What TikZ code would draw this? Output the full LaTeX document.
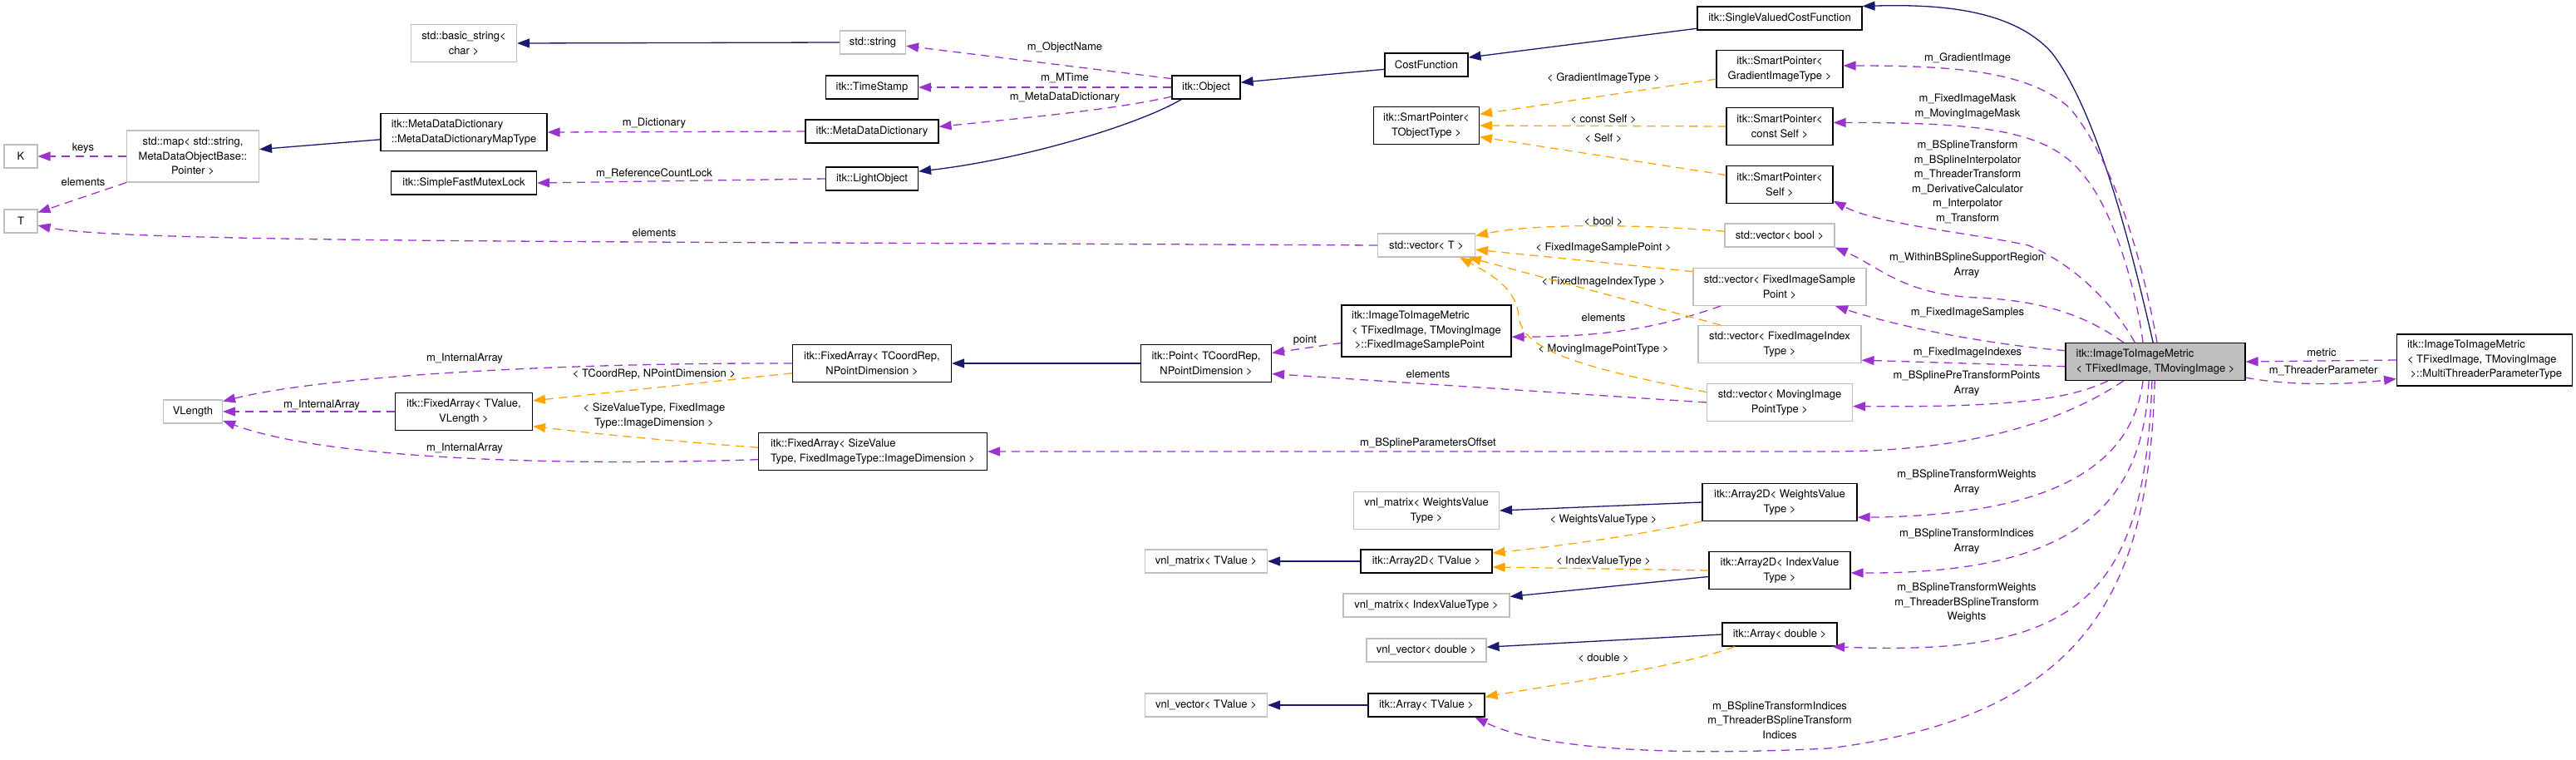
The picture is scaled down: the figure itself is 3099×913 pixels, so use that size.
\documentclass[tikz,border=0pt]{standalone}
\usepackage{fontspec}
\setmainfont{TeX Gyre Heros}
\usetikzlibrary{arrows.meta,positioning}
\definecolor{navy}{HTML}{191970}
\definecolor{orchid}{HTML}{9A32CD}
\definecolor{orng}{HTML}{FFA500}
\definecolor{undoc}{HTML}{BFBFBF}
\newcommand\dgfont{\fontsize{13}{17.5}\selectfont}
\tikzset{
  cls/.style={draw=black,line width=1.1pt,fill=white,font=\dgfont,align=center,inner sep=0pt},
  ext/.style={cls,draw=undoc},
  lft/.style={align=left},
  sz/.style args={#1x#2}{minimum width=#1pt,minimum height=#2pt},
  lbl/.style={font=\dgfont,align=center,inner sep=0pt},
  inh/.style={navy,line width=1.3pt,-{Triangle[length=15pt,width=11pt]}},
  mem/.style={orchid,line width=1.3pt,dash pattern=on 10pt off 7pt,-{Triangle[length=15pt,width=11pt]}},
  tpl/.style={mem,orng}
}

\begin{document}
\begin{tikzpicture}[x=1pt,y=-1pt]
\fill[white,use as bounding box] (0,0) rectangle (3099,913);
% classes
\node[ext,sz=40x28] (K) at (25,188) {K};
\node[ext,sz=40x28] (T) at (25,266) {T};
\node[ext,sz=159x62] (stdmap) at (232,188) {std::map< std::string,\\ MetaDataObjectBase::\\ Pointer >};
\node[ext,sz=71x28] (vlen) at (232,495) {VLength};
\node[ext,sz=127x45] (bstr) at (558,52) {std::basic\_string<\\ char >};
\node[cls,lft,sz=200x45] (maptype) at (558,159) {itk::MetaDataDictionary\\ ::MetaDataDictionaryMapType};
\node[cls,sz=175x28] (mutex) at (558,220) {itk::SimpleFastMutexLock};
\node[cls,sz=165x45] (favlen) at (558,495) {itk::FixedArray< TValue,\\ VLength >};
\node[ext,sz=79x28] (stdstr) at (1050,51) {std::string};
\node[cls,sz=111x28] (tstamp) at (1049,105) {itk::TimeStamp};
\node[cls,sz=160x28] (mdd) at (1049,158) {itk::MetaDataDictionary};
\node[cls,sz=111x28] (lightobj) at (1049,215) {itk::LightObject};
\node[cls,sz=191x45] (facoord) at (1049,437) {itk::FixedArray< TCoordRep,\\ NPointDimension >};
\node[cls,lft,sz=275x45] (fasize) at (1050,543) {itk::FixedArray< SizeValue\\ Type, FixedImageType::ImageDimension >};
\node[cls,sz=82x28] (object) at (1451,105) {itk::Object};
\node[cls,sz=157x45] (point) at (1451,437) {itk::Point< TCoordRep,\\ NPointDimension >};
\node[ext,sz=147x28] (vnlmatT) at (1451,675) {vnl\_matrix< TValue >};
\node[ext,sz=147x28] (vnlvecT) at (1451,848) {vnl\_vector< TValue >};
\node[cls,sz=100x28] (costfn) at (1716,78) {CostFunction};
\node[cls,sz=127x45] (spobj) at (1716,151) {itk::SmartPointer<\\ TObjectType >};
\node[ext,sz=117x28] (vecT) at (1716,295) {std::vector< T >};
\node[cls,lft,sz=204x62] (fisp) at (1716,398) {itk::ImageToImageMetric\\ < TFixedImage, TMovingImage\\ \ >::FixedImageSamplePoint};
\node[ext,sz=175x45] (vnlmatW) at (1716,614) {vnl\_matrix< WeightsValue\\ Type >};
\node[cls,sz=158x28] (arr2dT) at (1716,675) {itk::Array2D< TValue >};
\node[ext,sz=200x28] (vnlmatI) at (1716,728) {vnl\_matrix< IndexValueType >};
\node[ext,sz=144x28] (vnlvecD) at (1716,782) {vnl\_vector< double >};
\node[cls,sz=140x28] (arrT) at (1716,848) {itk::Array< TValue >};
\node[cls,sz=198x28] (svcf) at (2141,22) {itk::SingleValuedCostFunction};
\node[cls,sz=152x45] (spgrad) at (2141,83) {itk::SmartPointer<\\ GradientImageType >};
\node[cls,sz=128x45] (spconst) at (2141,152) {itk::SmartPointer<\\ const Self >};
\node[cls,sz=128x45] (spself) at (2141,222) {itk::SmartPointer<\\ Self >};
\node[ext,sz=132x28] (vecbool) at (2141,283) {std::vector< bool >};
\node[ext,sz=208x45] (vecfisp) at (2141,345) {std::vector< FixedImageSample\\ Point >};
\node[ext,sz=196x45] (vecfiit) at (2141,414) {std::vector< FixedImageIndex\\ Type >};
\node[ext,sz=175x45] (vecmipt) at (2141,484) {std::vector< MovingImage\\ PointType >};
\node[cls,sz=186x45] (arr2dW) at (2141,604) {itk::Array2D< WeightsValue\\ Type >};
\node[cls,sz=170x45] (arr2dI) at (2141,686) {itk::Array2D< IndexValue\\ Type >};
\node[cls,sz=138x28] (arrD) at (2141,763) {itk::Array< double >};
\node[cls,lft,sz=216x45,fill=undoc] (metric) at (2593,435) {itk::ImageToImageMetric\\ < TFixedImage, TMovingImage >};
\node[cls,lft,sz=211x62] (mtparam) at (2989,433) {itk::ImageToImageMetric\\ < TFixedImage, TMovingImage\\ \ >::MultiThreaderParameterType};
% edge labels
\foreach \nm/\x/\y/\txt in {
  lkeys/100/178/keys, lelmK/100/219/elements,
  ldict/787/148/m\_Dictionary, lrefc/787/209/m\_ReferenceCountLock, lelmT/787/280/elements,
  lname/1281/57/m\_ObjectName, lmtime/1281/94/m\_MTime, lmdd/1281/117/m\_MetaDataDictionary,
  liaA/559/431/m\_InternalArray, liaB/387/487/m\_InternalArray, liaC/559/539/m\_InternalArray,
  ltcoord/787/450/{< TCoordRep, NPointDimension >},
  lsize/787/500/{< SizeValueType, FixedImage\\ Type::ImageDimension >},
  lpoint/1570/409/point, lelmP/1718/450/elements, loffs/1718/533/m\_BSplineParametersOffset,
  lgrad/1929/94/< GradientImageType >, lcself/1929/143/< const Self >, lself/1929/166/< Self >,
  lbool/1929/266/< bool >, lfisp/1929/298/< FixedImageSamplePoint >,
  lfiit/1929/339/< FixedImageIndexType >, lelmS/1929/382/elements,
  lmipt/1929/420/< MovingImagePointType >, lwvt/1929/625/< WeightsValueType >,
  livt/1929/675/< IndexValueType >, ldbl/1929/791/< double >,
  lmgrad/2367/70/m\_GradientImage,
  lmask/2367/128/m\_FixedImageMask\\ m\_MovingImageMask,
  lbst/2367/219/m\_BSplineTransform\\ m\_BSplineInterpolator\\ m\_ThreaderTransform\\ m\_DerivativeCalculator\\ m\_Interpolator\\ m\_Transform,
  lwithin/2366/319/m\_WithinBSplineSupportRegion\\ Array,
  lsamp/2367/376/m\_FixedImageSamples, lidx/2367/424/m\_FixedImageIndexes,
  lpre/2366/461/m\_BSplinePreTransformPoints\\ Array,
  lwarr/2366/580/m\_BSplineTransformWeights\\ Array,
  liarr/2366/651/m\_BSplineTransformIndices\\ Array,
  lwthr/2366/725/m\_BSplineTransformWeights\\ m\_ThreaderBSplineTransform\\ Weights,
  lithr/2141/866/m\_BSplineTransformIndices\\ m\_ThreaderBSplineTransform\\ Indices,
  lmetric/2793/424/metric, lthr/2795/446/m\_ThreaderParameter}
  {\node[lbl] (\nm) at (\x,\y) {\txt};}
% inheritance
\draw[inh] (stdstr.west) -- (bstr.east);
\draw[inh] (maptype.185) -- (stdmap.6);
\draw[inh] (object.206) .. controls (1370,150) and (1230,192) .. (lightobj.9);
\draw[inh] (costfn.186) -- (object.8);
\draw[inh] (svcf.187) -- (costfn.10);
\draw[inh] (metric.97) .. controls (2560,280) and (2520,130) .. (2468,63) .. controls (2420,10) and (2330,5) .. (svcf.north east);
\draw[inh] (point.west) -- (facoord.east);
\draw[inh] (arr2dW.west) -- (vnlmatW.east);
\draw[inh] (arr2dT.west) -- (vnlmatT.east);
\draw[inh] (arr2dI.185) -- (vnlmatI.6);
\draw[inh] (arrD.west) -- (vnlvecD.3);
\draw[inh] (arrT.west) -- (vnlvecT.east);
% members
\draw[mem] (object.166) -- (stdstr.-6);
\draw[mem] (object.west) -- (tstamp.east);
\draw[mem] (object.195) .. controls (1340,132) and (1230,142) .. (mdd.4);
\draw[mem] (mdd.west) -- (maptype.east);
\draw[mem] (lightobj.west) -- (mutex.east);
\draw[mem] (stdmap.west) -- (K.east);
\draw[mem] (stdmap.south west) -- (T.27);
\draw[mem] (vecT.west) .. controls (700,290) and (150,292) .. (T.-14);
\draw[mem] (facoord.west) .. controls (700,436) and (400,450) .. (vlen.19);
\draw[mem] (favlen.west) -- (vlen.east);
\draw[mem] (fasize.184) .. controls (700,560) and (400,555) .. (vlen.-17);
\draw[mem] (fisp.188) -- (point.9);
\draw[mem] (vecmipt.west) -- (point.-9);
\draw[mem] (vecfisp.198) .. controls (2020,385) and (1960,405) .. (fisp.-4);
\draw[mem] (metric.85) .. controls (2575,300) and (2540,190) .. (2490,130) .. controls (2440,85) and (2350,79) .. (spgrad.3);
\draw[mem] (metric.123) .. controls (2570,350) and (2545,260) .. (2510,215) .. controls (2470,160) and (2400,147) .. (spconst.4);
\draw[mem] (metric.137) .. controls (2545,370) and (2500,320) .. (2440,295) .. controls (2370,280) and (2260,270) .. (spself.-17);
\draw[mem] (metric.149) .. controls (2510,380) and (2460,362) .. (2380,358) .. controls (2290,355) and (2260,320) .. (vecbool.south east);
\draw[mem] (metric.173) .. controls (2400,415) and (2290,395) .. (vecfisp.-19);
\draw[mem] (metric.183) -- (vecfiit.-11);
\draw[mem] (metric.202) .. controls (2490,480) and (2420,490) .. (vecmipt.-3);
\draw[mem] (metric.211) .. controls (2470,515) and (2350,543) .. (2200,543) -- (fasize.east);
\draw[mem] (metric.237) .. controls (2565,560) and (2470,620) .. (arr2dW.-11);
\draw[mem] (metric.251) .. controls (2578,620) and (2480,690) .. (arr2dI.-2);
\draw[mem] (metric.260) .. controls (2580,720) and (2500,790) .. (arrD.-13);
\draw[mem] (metric.268) .. controls (2585,700) and (2520,860) .. (2200,900) .. controls (2000,910) and (1850,900) .. (arrT.-14);
\draw[mem] (mtparam.west) -- (metric.east);
\draw[mem] (metric.-10) .. controls (2760,465) and (2830,462) .. (mtparam.192);
% templates
\draw[tpl] (spgrad.189) -- (spobj.12);
\draw[tpl] (spconst.west) -- (spobj.east);
\draw[tpl] (spself.170) -- (spobj.-12);
\draw[tpl] (vecbool.176) .. controls (1980,270) and (1850,268) .. (vecT.11);
\draw[tpl] (vecfisp.170) -- (vecT.-5);
\draw[tpl] (vecfiit.162) -- (vecT.-16);
\draw[tpl] (vecmipt.172) .. controls (1920,445) and (1830,425) .. (1827,380) .. controls (1824,345) and (1790,328) .. (vecT.-20);
\draw[tpl] (facoord.187) -- (favlen.9);
\draw[tpl] (fasize.178) .. controls (800,530) and (720,522) .. (favlen.-12);
\draw[tpl] (arr2dW.south west) .. controls (1950,648) and (1860,658) .. (arr2dT.7);
\draw[tpl] (arr2dI.west) -- (arr2dT.-5);
\draw[tpl] (arrD.195) .. controls (2030,800) and (1880,822) .. (arrT.8);
\end{tikzpicture}
\end{document}
